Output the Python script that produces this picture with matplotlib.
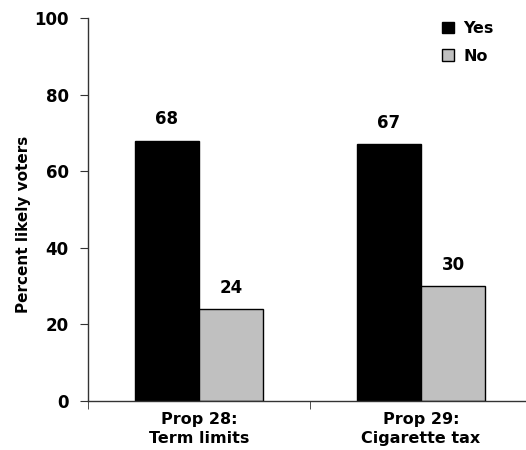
import matplotlib
matplotlib.use("Agg")
import matplotlib.pyplot as plt
import numpy as np

plt.rcParams['font.family'] = ['DejaVu Sans']
plt.rcParams['font.weight'] = 'bold'

categories = ["Prop 28:\nTerm limits", "Prop 29:\nCigarette tax"]
yes_vals = [68, 67]
no_vals = [24, 30]
yticks = [0, 20, 40, 60, 80, 100]

fig = plt.figure(figsize=(5.26, 4.5), dpi=100)
ax = fig.add_axes([88/526, 49/450, 444/526, 383/450])

x = np.arange(len(categories))
w = 0.29
b1 = ax.bar(x - w/2, yes_vals, w, color='black', edgecolor='black', linewidth=1, label='Yes')
b2 = ax.bar(x + w/2, no_vals, w, color='#c0c0c0', edgecolor='black', linewidth=1, label='No')

for rect, v in zip(list(b1) + list(b2), yes_vals + no_vals):
    ax.text(rect.get_x() + rect.get_width()/2, v + 3.2, str(v), ha='center', va='bottom',
            fontsize=12, fontweight='bold')

ax.set_xlim(-0.5, 1.5)
ax.set_ylim(0, 100)
ax.set_yticks(yticks)
ax.set_yticklabels([str(t) for t in yticks], fontsize=12, fontweight='bold')
ax.set_xticks(x)
ax.set_xticklabels(categories, fontsize=11.5, fontweight='bold', linespacing=1.3)
ax.set_xticks([-0.5, 0.5, 1.5], minor=True)
ax.tick_params(axis='x', which='major', length=0, pad=8)
ax.tick_params(axis='x', which='minor', length=6, direction='out', color='#333333')
ax.tick_params(axis='y', length=6, direction='out', color='#333333', pad=8)
ax.set_ylabel('Percent likely voters', fontsize=11, fontweight='bold')
ax.yaxis.set_label_coords(-0.128, 0.46)

for s in ['top', 'right']:
    ax.spines[s].set_visible(False)
for s in ['left', 'bottom']:
    ax.spines[s].set_color('#333333')
    ax.spines[s].set_linewidth(1)

leg = ax.legend(loc='upper left', bbox_to_anchor=(340/444, 1.03), frameon=False,
                handlelength=0.7, handleheight=0.7, handletextpad=0.6,
                labelspacing=0.8, prop={'weight': 'bold', 'size': 11.5})

fig.savefig('out.png', dpi=100)
